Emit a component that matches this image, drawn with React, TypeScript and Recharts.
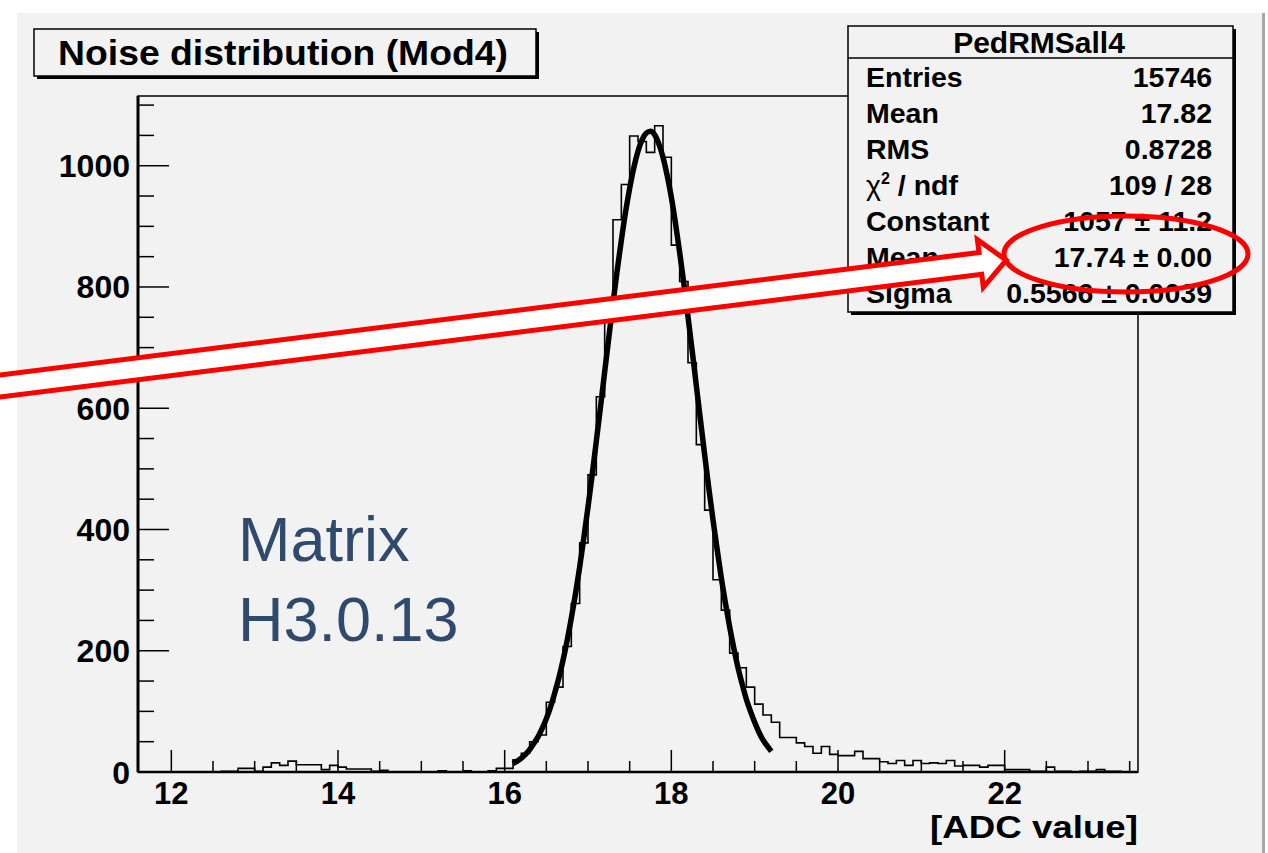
import React from 'react';
import { ComposedChart, Line, XAxis, YAxis, ReferenceArea } from 'recharts';

// histogram: 120 bins of 0.1 starting at 11.6
const binStart = 11.6;
const binWidth = 0.1;
const binCounts = [
  0, 0, 0, 0, 0, 0, 0, 0, 0, 0,
  1, 1, 6, 6, 1, 8, 15, 11, 18, 12,
  12, 12, 4, 11, 8, 5, 5, 5, 1, 3,
  0, 0, 0, 0, 0, 0, 2, 0, 0, 2,
  0, 0, 2, 6, 6, 20, 31, 50, 61, 115,
  140, 207, 278, 378, 490, 619, 745, 911, 969, 1049,
  1040, 1022, 1066, 1014, 869, 809, 675, 540, 432, 317,
  267, 196, 172, 140, 112, 94, 82, 57, 57, 48,
  42, 31, 42, 29, 27, 27, 34, 22, 22, 17,
  14, 19, 11, 19, 14, 15, 14, 19, 10, 11,
  11, 8, 11, 11, 4, 4, 4, 1, 1, 8,
  1, 1, 0, 1, 1, 4, 1, 1, 0, 0,
];

// gaussian fit curve, read every 0.05 from 16.10 to 19.20
const fitStart = 16.1;
const fitStep = 0.05;
const fitValues = [
  14, 18, 23, 29, 37, 47, 58, 72, 88, 107,
  130, 155, 184, 217, 254, 294, 338, 386, 437, 490,
  546, 602, 660, 717, 773, 827, 877, 923, 963, 997,
  1024, 1043, 1054, 1057, 1051, 1036, 1014, 984, 948, 905,
  857, 806, 751, 695, 637, 580, 523, 468, 416, 367,
  320, 278, 239, 204, 172, 145, 120, 100, 82, 66,
  53, 43, 34,
];

const xTicks = [12, 12.5, 13, 13.5, 14, 14.5, 15, 15.5, 16, 16.5, 17, 17.5, 18, 18.5, 19, 19.5, 20, 20.5, 21, 21.5, 22, 22.5, 23, 23.5];
const xLabels = [12, 14, 16, 18, 20, 22];
const yTicks = [0, 50, 100, 150, 200, 250, 300, 350, 400, 450, 500, 550, 600, 650, 700, 750, 800, 850, 900, 950, 1000, 1050, 1100];
const yLabels = [0, 200, 400, 600, 800, 1000];

const statTitle = 'PedRMSall4';
const statLabels = ['Entries', 'Mean', 'RMS', 'chi2', 'Constant', 'Mean', 'Sigma'];
const statValues = ['15746', '17.82', '0.8728', '109 / 28', '1057 \u00b1 11.2', '17.74 \u00b1 0.00', '0.5566 \u00b1 0.0039'];

const histData = binCounts.map((c, i) => ({ x: +(binStart + i * binWidth).toFixed(2), y: c }));
histData.push({ x: +(binStart + binCounts.length * binWidth).toFixed(2), y: binCounts[binCounts.length - 1] });
const fitData = fitValues.map((v, i) => ({ x: +(fitStart + i * fitStep).toFixed(2), y: v }));

const FONT = '"Liberation Sans", Arial, Helvetica, sans-serif';
const BG = '#f2f2f2';

const YTick = (props: any) => {
  const { x, y, payload } = props;
  const v = payload.value;
  const major = yLabels.includes(v);
  return (
    <g>
      <line x1={x} x2={x + (major ? 31 : 16)} y1={y} y2={y} stroke="#000" strokeWidth={1.5} />
      {major && (
        <text x={x - 8} y={y} dy="0.36em" textAnchor="end" fontFamily={FONT} fontWeight="bold" fontSize={32} fill="#000">
          {v}
        </text>
      )}
    </g>
  );
};

const XTick = (props: any) => {
  const { x, y, payload } = props;
  const v = payload.value;
  const major = xLabels.includes(v);
  return (
    <g>
      <line x1={x} x2={x} y1={y} y2={y - (major ? 22 : 11)} stroke="#000" strokeWidth={1.5} />
      {major && (
        <text x={x} y={y + 32} textAnchor="middle" fontFamily={FONT} fontWeight="bold" fontSize={31} fill="#000">
          {v}
        </text>
      )}
    </g>
  );
};

const Overlay = () => (
  <svg width={1268} height={853} style={{ position: 'absolute', left: 0, top: 0, pointerEvents: 'none' }}>
    {/* title box */}
    <rect x={37} y={32} width={502} height={47} fill="#000" />
    <rect x={34} y={29} width={502} height={47} fill={BG} stroke="#000" strokeWidth={1.5} />
    <text x={58} y={65} textLength={450} lengthAdjust="spacingAndGlyphs" fontFamily={FONT} fontWeight="bold" fontSize={35} fill="#000">
      Noise distribution (Mod4)
    </text>

    {/* stats box */}
    <rect x={851} y={29} width={385} height={286} fill="#000" />
    <rect x={848} y={26} width={385} height={286} fill={BG} stroke="#000" strokeWidth={1.5} />
    <line x1={848} x2={1233} y1={58} y2={58} stroke="#000" strokeWidth={1.5} />
    <text x={1039} y={53} textAnchor="middle" fontFamily={FONT} fontWeight="bold" fontSize={30} fill="#000">
      {statTitle}
    </text>
    {statLabels.map((l, i) => (
      <g key={i} fontFamily={FONT} fontWeight="bold" fontSize={28.5} fill="#000">
        <text x={866} y={87 + i * 36}>
          {l === 'chi2' ? (
            <>
              <tspan fontWeight="normal">{'\u03c7'}</tspan>
              <tspan dy={-11} fontSize={16}>2</tspan>
              <tspan dy={11}>{' / ndf'}</tspan>
            </>
          ) : (
            l
          )}
        </text>
        <text x={1212} y={87 + i * 36} textAnchor="end">
          {statValues[i]}
        </text>
      </g>
    ))}

    {/* x axis title */}
    <text x={930} y={838} textLength={208} lengthAdjust="spacingAndGlyphs" fontFamily={FONT} fontWeight="bold" fontSize={31} fill="#000">
      [ADC value]
    </text>

    {/* annotation */}
    <text fontFamily={FONT} fontSize={63} fill="#2f4a6c">
      <tspan x={238} y={561}>Matrix</tspan>
      <tspan x={238} y={641}>H3.0.13</tspan>
    </text>
    <g transform="translate(0,386) rotate(-7.125)">
      <polygon
        points="-30,-11 988,-11 988,-24 1014,0 988,24 988,11 -30,11"
        fill="#fff"
        stroke="#ff0000"
        strokeWidth={5}
        strokeLinejoin="miter"
      />
    </g>
    <ellipse cx={1126} cy={254} rx={122} ry={38} fill="none" stroke="#ff0000" strokeWidth={5} />
  </svg>
);

export default function App() {
  return (
    <div style={{ position: 'absolute', left: 0, top: 0, width: 1268, height: 853, background: '#fff', overflow: 'hidden' }}>
      <div style={{ position: 'absolute', left: 17, top: 13, width: 1245, height: 840, background: BG, borderRight: '3px solid #a8a8a8' }} />
      <div style={{ position: 'absolute', left: 0, top: 0 }}>
        <ComposedChart width={1268} height={853} margin={{ top: 96, right: 130, bottom: 21, left: 78 }}>
          <XAxis
            dataKey="x"
            type="number"
            domain={[11.6, 23.6]}
            allowDataOverflow
            ticks={xTicks}
            interval={0}
            tickSize={0}
            tickMargin={0}
            tickLine={false}
            axisLine={{ stroke: '#000', strokeWidth: 2.5 }}
            tick={<XTick />}
            height={60}
          />
          <YAxis
            type="number"
            domain={[0, 1115]}
            allowDataOverflow
            ticks={yTicks}
            interval={0}
            tickSize={0}
            tickMargin={0}
            tickLine={false}
            axisLine={{ stroke: '#000', strokeWidth: 3 }}
            tick={<YTick />}
            width={60}
          />
          <ReferenceArea x1={11.6} x2={23.6} y1={0} y2={1115} fill="none" stroke="#000" strokeWidth={1.5} />
          <Line
            data={histData}
            dataKey="y"
            type="stepAfter"
            stroke="#000"
            strokeWidth={1.6}
            dot={false}
            isAnimationActive={false}
          />
          <Line
            data={fitData}
            dataKey="y"
            type="monotone"
            stroke="#000"
            strokeWidth={5.5}
            dot={false}
            isAnimationActive={false}
          />
        </ComposedChart>
      </div>
      <Overlay />
    </div>
  );
}
